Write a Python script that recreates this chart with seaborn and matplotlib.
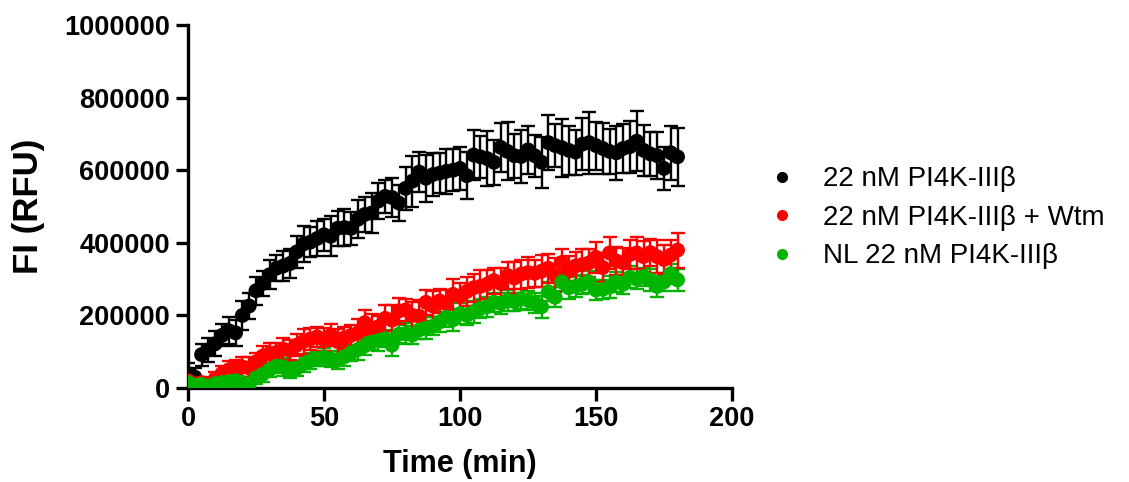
import numpy as np
import pandas as pd
import matplotlib
matplotlib.use("Agg")
from matplotlib import pyplot as plt
import seaborn as sns

# time points (min)
times = [0, 2.5, 5, 7.5, 10, 12.5, 15, 17.5, 20, 22.5,
         25, 27.5, 30, 32.5, 35, 37.5, 40, 42.5, 45, 47.5,
         50, 52.5, 55, 57.5, 60, 62.5, 65, 67.5, 70, 72.5,
         75, 77.5, 80, 82.5, 85, 87.5, 90, 92.5, 95, 97.5,
         100, 102.5, 105, 107.5, 110, 112.5, 115, 117.5, 120, 122.5,
         125, 127.5, 130, 132.5, 135, 137.5, 140, 142.5, 145, 147.5,
         150, 152.5, 155, 157.5, 160, 162.5, 165, 167.5, 170, 172.5,
         175, 177.5, 180]

labels = ["22 nM PI4K-IIIβ", "22 nM PI4K-IIIβ + Wtm", "NL 22 nM PI4K-IIIβ"]
colors = ["#000000", "#FF0000", "#00B400"]

enzyme = [40000, 30000, 92000, 105000, 122000, 145000, 158000, 152000, 200000, 226000,
          268000, 288000, 312000, 330000, 336000, 343000, 375000, 397000, 402000, 412000,
          422000, 418000, 440000, 442000, 440000, 465000, 478000, 482000, 515000, 528000,
          525000, 510000, 550000, 570000, 595000, 578000, 588000, 592000, 597000, 600000,
          605000, 585000, 642000, 637000, 632000, 622000, 663000, 652000, 640000, 638000,
          656000, 640000, 622000, 676000, 668000, 662000, 655000, 650000, 672000, 676000,
          668000, 660000, 652000, 648000, 660000, 665000, 680000, 655000, 645000, 640000,
          605000, 648000, 637000]
enzyme_sd = [30000, 25000, 30000, 32000, 35000, 30000, 38000, 35000, 40000, 35000,
             38000, 35000, 40000, 36000, 42000, 40000, 45000, 50000, 42000, 48000,
             45000, 55000, 48000, 50000, 45000, 52000, 48000, 55000, 50000, 45000,
             55000, 50000, 60000, 70000, 55000, 65000, 60000, 55000, 62000, 58000,
             60000, 65000, 70000, 58000, 75000, 62000, 68000, 80000, 60000, 72000,
             65000, 58000, 70000, 75000, 60000, 80000, 68000, 62000, 72000, 85000,
             66000, 70000, 62000, 75000, 68000, 72000, 82000, 70000, 60000, 65000,
             60000, 75000, 80000]

wtm = [20000, 12000, 15000, 8000, 25000, 40000, 50000, 56000, 58000, 55000,
       72000, 88000, 95000, 98000, 107000, 104000, 118000, 128000, 135000, 141000,
       133000, 145000, 128000, 138000, 145000, 152000, 180000, 164000, 169000, 192000,
       187000, 212000, 215000, 200000, 198000, 236000, 226000, 240000, 232000, 258000,
       252000, 266000, 276000, 280000, 286000, 296000, 288000, 310000, 303000, 314000,
       318000, 316000, 322000, 330000, 311000, 346000, 322000, 336000, 340000, 345000,
       360000, 332000, 372000, 350000, 345000, 368000, 372000, 362000, 373000, 362000,
       354000, 366000, 380000]
wtm_sd = [15000, 12000, 15000, 20000, 18000, 22000, 25000, 20000, 28000, 30000,
          25000, 28000, 30000, 26000, 32000, 28000, 30000, 35000, 30000, 28000,
          32000, 30000, 35000, 30000, 28000, 38000, 34000, 40000, 30000, 36000,
          42000, 35000, 30000, 38000, 45000, 35000, 40000, 34000, 38000, 42000,
          36000, 40000, 38000, 44000, 40000, 36000, 42000, 38000, 45000, 40000,
          42000, 38000, 44000, 40000, 46000, 38000, 42000, 40000, 44000, 38000,
          42000, 40000, 45000, 38000, 42000, 40000, 44000, 42000, 38000, 45000,
          40000, 42000, 48000]

nl = [15000, 8000, 10000, 5000, 12000, 15000, 18000, 20000, 15000, 10000,
      28000, 38000, 50000, 60000, 58000, 50000, 54000, 67000, 75000, 81000,
      85000, 80000, 77000, 86000, 97000, 106000, 116000, 126000, 131000, 136000,
      118000, 148000, 150000, 146000, 160000, 165000, 170000, 182000, 195000, 188000,
      205000, 200000, 210000, 219000, 224000, 236000, 233000, 241000, 238000, 246000,
      242000, 235000, 224000, 265000, 250000, 292000, 276000, 280000, 286000, 292000,
      270000, 272000, 278000, 292000, 286000, 305000, 300000, 307000, 298000, 280000,
      292000, 315000, 298000]
nl_sd = [10000, 8000, 10000, 12000, 10000, 15000, 12000, 18000, 15000, 20000,
         18000, 22000, 20000, 18000, 25000, 22000, 20000, 24000, 22000, 20000,
         25000, 22000, 26000, 24000, 22000, 28000, 25000, 22000, 28000, 24000,
         30000, 25000, 28000, 24000, 26000, 30000, 25000, 28000, 26000, 30000,
         28000, 26000, 30000, 25000, 28000, 26000, 30000, 28000, 25000, 28000,
         26000, 28000, 30000, 26000, 28000, 25000, 30000, 28000, 26000, 30000,
         28000, 26000, 30000, 28000, 26000, 30000, 28000, 25000, 30000, 28000,
         26000, 28000, 30000]

frames = []
for label, vals, sds in zip(labels, [enzyme, wtm, nl], [enzyme_sd, wtm_sd, nl_sd]):
    frames.append(pd.DataFrame({"Time": times, "FI": vals, "SD": sds, "Sample": label}))
data = pd.concat(frames, ignore_index=True)

sns.set_theme(style="ticks")
plt.rcParams["font.family"] = ["Liberation Sans", "DejaVu Sans"]
plt.rcParams.update({"text.color": "black", "axes.labelcolor": "black",
                     "xtick.color": "black", "ytick.color": "black"})

fig = plt.figure(figsize=(11.29, 4.82), dpi=100)
ax = fig.add_axes([0.1665, 0.195, 0.4818, 0.753])

palette = dict(zip(labels, colors))
# draw green first, black on top
for label in labels[::-1]:
    sub = data[data["Sample"] == label]
    ax.errorbar(sub["Time"], sub["FI"], yerr=sub["SD"], fmt="none",
                ecolor=palette[label], elinewidth=1.7, capsize=5, capthick=1.7, zorder=2)
sns.scatterplot(data=data, x="Time", y="FI", hue="Sample", hue_order=labels[::-1],
                palette=palette, s=115, edgecolor="none", linewidth=0, ax=ax, zorder=3,
                legend=False)

ax.set_xlim(0, 200)
ax.set_ylim(0, 1000000)
ax.set_xticks([0, 50, 100, 150, 200])
ax.set_yticks([0, 200000, 400000, 600000, 800000, 1000000])
ax.set_yticklabels(["0", "200000", "400000", "600000", "800000", "1000000"])
ax.set_xlabel("Time (min)", fontsize=22, fontweight="bold", labelpad=12)
ax.set_ylabel("FI (RFU)", fontsize=25, fontweight="bold", labelpad=14)
ax.tick_params(axis="both", labelsize=19.5, width=2.4, length=9, color="black", pad=4)
for lab in ax.get_xticklabels() + ax.get_yticklabels():
    lab.set_fontweight("bold")
for side in ["left", "bottom"]:
    ax.spines[side].set_linewidth(2.4)
    ax.spines[side].set_color("black")
sns.despine(ax=ax)
ax.margins(0)

handles = [plt.Line2D([], [], marker="o", linestyle="none", markersize=8,
                      markerfacecolor=c, markeredgecolor="none") for c in colors]
fig.legend(handles, labels, loc="center left", bbox_to_anchor=(0.658, 0.548),
           frameon=False, fontsize=20, handletextpad=1.0, labelspacing=0.45,
           handlelength=1.0)

fig.savefig("out.png", dpi=100)
